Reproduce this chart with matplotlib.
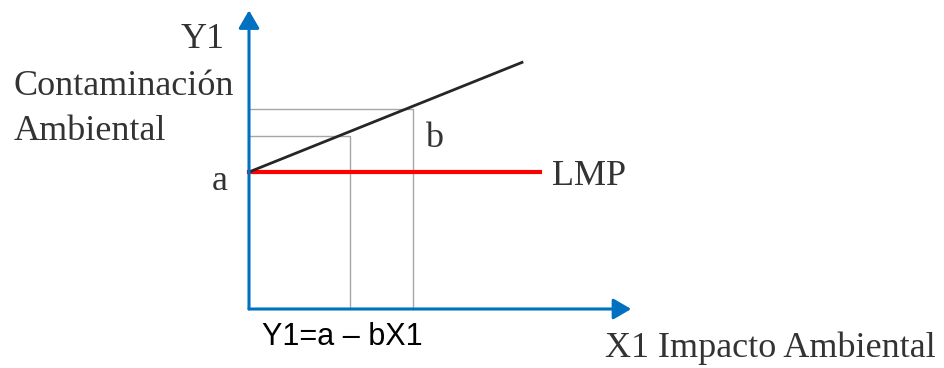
import matplotlib
matplotlib.use("Agg")
import matplotlib.pyplot as plt
import numpy as np

# diagram values (conceptual units)
a = 5.0          # intercept
b = 0.4          # slope
x_line = [0.0, 10.0]
x_guides = [3.7, 6.0]
y_guides = [6.3, 7.3]
lmp_end = 10.66
x_axis_end = 14.0
y_axis_end = 10.9

serif = "Liberation Serif"
txt = "#333333"
blue = "#0070C0"

fig = plt.figure(figsize=(9.44, 3.68), dpi=100)
ax = fig.add_axes([0, 0, 1, 1])
ax.set_xlim(-249 / 27.3, (944 - 249) / 27.3)
ax.set_ylim(-(368 - 309) / 27.4, 309 / 27.4)
ax.axis("off")

# guide lines
for xg, yg in zip(x_guides, y_guides):
    ax.plot([0, xg, xg], [yg, yg, 0], color="#a6a6a6", lw=1.0, zorder=1)

# LMP line
ax.plot([0, lmp_end], [a, a], color="#ff0000", lw=3.0, zorder=2)

# regression line
xl = np.array(x_line)
ax.plot(xl, a + b * xl, color="#262626", lw=2.0, zorder=3)

# axes arrows
arrow = dict(arrowstyle="-|>,head_length=0.6,head_width=0.35", color=blue, lw=2.2,
             shrinkA=0, shrinkB=0, mutation_scale=18)
ax.annotate("", xy=(x_axis_end, 0), xytext=(0, 0), arrowprops=arrow, zorder=4)
ax.annotate("", xy=(0, y_axis_end), xytext=(0, 0), arrowprops=arrow, zorder=4)

fs = 26
ax.text(-0.88, 9.53, "Y1", family=serif, fontsize=fs, color=txt, ha="right", va="baseline")
ax.text(-8.61, 7.81, "Contaminación", family=serif, fontsize=fs, color=txt, ha="left", va="baseline")
ax.text(-8.61, 6.17, "Ambiental", family=serif, fontsize=fs, color=txt, ha="left", va="baseline")
ax.text(-0.77, 4.34, "a", family=serif, fontsize=fs, color=txt, ha="right", va="baseline")
ax.text(6.45, 5.91, "b", family=serif, fontsize=fs, color=txt, ha="left", va="baseline")
ax.text(11.1, 4.53, "LMP", family=serif, fontsize=fs, color=txt, ha="left", va="baseline")
ax.text(13.04, -1.75, "X1 Impacto Ambiental", family=serif, fontsize=fs, color=txt, ha="left", va="baseline")
ax.text(0.48, -1.31, "Y1=a – bX1", family="Liberation Sans", fontsize=22, color="#000000",
        ha="left", va="baseline")

fig.savefig("out.png", dpi=100)
